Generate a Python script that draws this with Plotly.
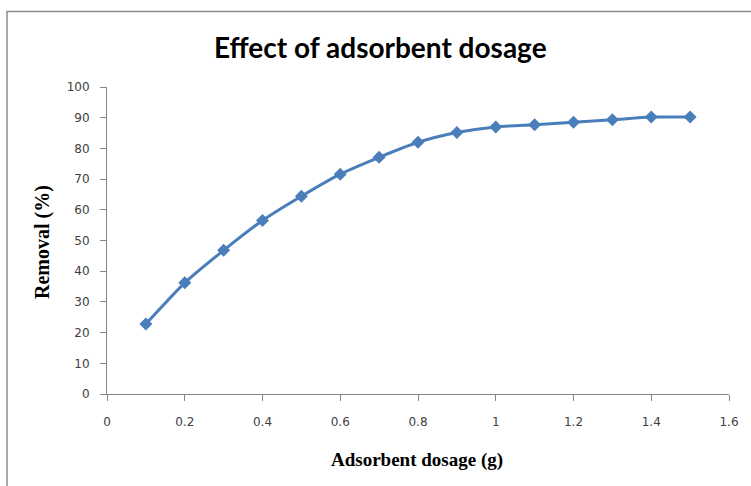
import plotly.graph_objects as go

dosage = [0.1, 0.2, 0.3, 0.4, 0.5, 0.6, 0.7, 0.8, 0.9, 1.0, 1.1, 1.2, 1.3, 1.4, 1.5]
removal = [22.8, 36.2, 46.8, 56.5, 64.4, 71.6, 77.1, 82.0, 85.2, 87.0, 87.7, 88.5, 89.3, 90.2, 90.2]
x_ticks = [0, 0.2, 0.4, 0.6, 0.8, 1, 1.2, 1.4, 1.6]
y_ticks = list(range(0, 101, 10))

W, H = 751, 486
L, R, T, B = 107, 22, 87, 92
pw, ph = W - L - R, H - T - B

def px2paper_x(px):
    return (px - L) / pw

def px2paper_y(py):
    return (H - B - py) / ph

fig = go.Figure()
fig.add_trace(go.Scatter(
    x=dosage, y=removal, mode="lines+markers",
    line=dict(color="#4A7EBB", width=3, shape="spline", smoothing=0.6),
    marker=dict(symbol="diamond", size=10, color="#4A7EBB"),
    showlegend=False,
))

axis_common = dict(
    showgrid=False, zeroline=False, showline=True, linecolor="#868686", linewidth=1,
    ticks="outside", tickcolor="#868686", ticklen=6, tickwidth=1,
    tickfont=dict(family="DejaVu Sans", size=12, color="#404040"),
)
fig.update_xaxes(range=[0, 1.6], tickvals=x_ticks, ticktext=[str(v) for v in x_ticks],
                 ticklabelstandoff=11, **axis_common)
fig.update_yaxes(range=[0, 100], tickvals=y_ticks, ticklabelstandoff=8, **axis_common)

fig.add_annotation(text="Effect of adsorbent dosage", xref="paper", yref="paper",
                   x=px2paper_x(380), y=px2paper_y(47), showarrow=False,
                   font=dict(family="Lato", size=28, color="#000000", weight="bold"),
                   xanchor="center", yanchor="middle")
fig.add_annotation(text="Removal (%)", xref="paper", yref="paper",
                   x=px2paper_x(42), y=px2paper_y(242), showarrow=False, textangle=-90,
                   font=dict(family="Liberation Serif", size=20, color="#000000", weight="bold"),
                   xanchor="center", yanchor="middle")
fig.add_annotation(text="Adsorbent dosage (g)", xref="paper", yref="paper",
                   x=px2paper_x(417), y=px2paper_y(460), showarrow=False,
                   font=dict(family="Liberation Serif", size=19, color="#000000", weight="bold"),
                   xanchor="center", yanchor="middle")

fig.add_shape(type="rect", xref="paper", yref="paper",
              x0=px2paper_x(7), x1=px2paper_x(760), y0=px2paper_y(495), y1=px2paper_y(11.5),
              line=dict(color="#8C8C8C", width=1.5), fillcolor="rgba(0,0,0,0)", layer="below")

fig.update_layout(
    width=W, height=H, margin=dict(l=L, r=R, t=T, b=B),
    paper_bgcolor="white", plot_bgcolor="white",
)
fig.write_html("out.html")
